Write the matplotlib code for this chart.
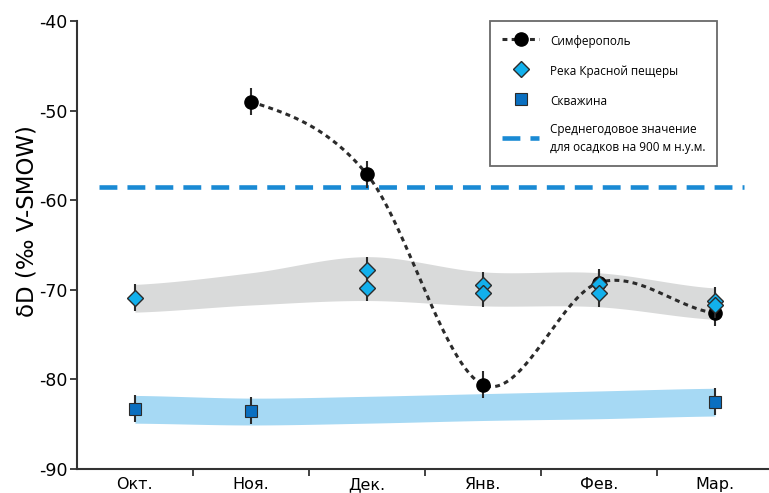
import numpy as np
import matplotlib
matplotlib.use("Agg")
import matplotlib.pyplot as plt
from matplotlib.lines import Line2D

months = ["Окт.", "Ноя.", "Дек.", "Янв.", "Фев.", "Мар."]

# Симферополь
simf_x = [1, 2, 3, 4, 5]
simf_y = [-49.0, -57.1, -80.6, -69.2, -72.6]
simf_err = [1.5, 1.5, 1.5, 1.5, 1.5]

# Река Красной пещеры
river_x = [0, 2, 2, 3, 3, 4, 4, 5, 5]
river_y = [-70.9, -67.8, -69.8, -69.5, -70.4, -69.4, -70.4, -71.2, -71.7]
river_err = [1.5, 1.5, 1.5, 1.5, 1.5, 1.5, 1.5, 1.5, 1.5]

# Скважина
well_x = [0, 1, 5]
well_y = [-83.3, -83.5, -82.5]
well_err = [1.5, 1.5, 1.5]

# полосы
band_x = [0, 1, 2, 3, 4, 5]
gray_top = [-69.4, -68.1, -66.3, -68.0, -68.1, -69.8]
gray_bot = [-72.5, -71.7, -71.2, -71.8, -71.9, -73.3]
blue_top = [-81.8, -82.1, -81.9, -81.6, -81.3, -81.0]
blue_bot = [-84.9, -85.1, -84.9, -84.6, -84.4, -84.1]

mean_value = -58.5


def smooth(x, y, n=60):
    # кривая Катмулла-Рома через точки
    x = np.asarray(x, float)
    y = np.asarray(y, float)
    m = np.zeros(len(y))
    m[1:-1] = (y[2:] - y[:-2]) / (x[2:] - x[:-2])
    m[0] = 0.5 * (y[1] - y[0]) / (x[1] - x[0])
    m[-1] = 0.5 * (y[-1] - y[-2]) / (x[-1] - x[-2])
    xs, ys = [], []
    for i in range(len(x) - 1):
        h = x[i + 1] - x[i]
        t = np.linspace(0, 1, n)
        h00 = 2 * t**3 - 3 * t**2 + 1
        h10 = t**3 - 2 * t**2 + t
        h01 = -2 * t**3 + 3 * t**2
        h11 = t**3 - t**2
        xs.append(x[i] + t * h)
        ys.append(h00 * y[i] + h10 * h * m[i] + h01 * y[i + 1] + h11 * h * m[i + 1])
    return np.concatenate(xs), np.concatenate(ys)


fig = plt.figure(figsize=(7.69, 4.93), dpi=100)
ax = fig.add_axes([0.100, 0.049, 0.90, 0.908])

xs, gt = smooth(band_x, gray_top)
_, gb = smooth(band_x, gray_bot)
ax.fill_between(xs, gb, gt, color="#d9dada", lw=0, zorder=1)
xs, bt = smooth(band_x, blue_top)
_, bbm = smooth(band_x, blue_bot)
ax.fill_between(xs, bbm, bt, color="#a6d9f4", lw=0, zorder=1)

ax.plot([-0.31, 5.25], [mean_value, mean_value], color="#1a8ad4",
        lw=3.3, ls=(0, (3.9, 2.2)), zorder=2)

sx, sy = smooth(simf_x, simf_y)
ax.plot(sx, sy, color="#2b2b2b", lw=2.2, ls=(0, (1.6, 1.4)), zorder=3)

h1 = ax.errorbar(simf_x, simf_y, yerr=simf_err, fmt="o", color="black", ms=9.5,
                 ecolor="#2b2b2b", elinewidth=1.5, capsize=0, zorder=4)
h2 = ax.errorbar(river_x, river_y, yerr=river_err, fmt="D", mfc="#12b0ec",
                 mec="#2b2b2b", mew=1.0, ms=8.5, ecolor="#2b2b2b",
                 elinewidth=1.5, capsize=0, zorder=5)
h3 = ax.errorbar(well_x, well_y, yerr=well_err, fmt="s", mfc="#0a6fc0",
                 mec="#2b2b2b", mew=0.8, ms=8, ecolor="#2b2b2b",
                 elinewidth=1.5, capsize=0, zorder=5)

simf_handle = (Line2D([], [], color="#2b2b2b", lw=2.2, ls=(0, (1.6, 1.4))), h1)
mean_handle = Line2D([], [], color="#1a8ad4", lw=3.3, ls=(0, (3.9, 2.2)))

leg = ax.legend([simf_handle, h2, h3, mean_handle],
                ["Симферополь", "Река Красной пещеры", "Скважина",
                 "Среднегодовое значение\nдля осадков на 900 м н.у.м."],
                loc="upper left", bbox_to_anchor=(0.597, 1.0), borderaxespad=0,
                frameon=True, fancybox=False, edgecolor="#444444",
                handlelength=3.2, handleheight=1.86, labelspacing=1.1,
                borderpad=0.98, handletextpad=0.9,
                prop={"family": ["Open Sans", "DejaVu Sans"], "size": 8.5})
leg.get_frame().set_linewidth(1.3)
for t in leg.get_texts():
    t.set_linespacing(1.5)

ax.set_xlim(-0.5, 5.466)
ax.set_ylim(-90, -40)
ax.set_yticks(np.arange(-90, -39, 10))
ax.set_yticklabels([str(v) for v in range(-90, -39, 10)],
                   family="DejaVu Sans", fontsize=12.5)
ax.set_xticks(np.arange(0.5, 5.5, 1.0))
ax.set_xticklabels([])
ax.set_xticks(range(len(months)), minor=True)
ax.set_xticklabels(months, minor=True, family="DejaVu Sans", fontsize=11.5)
ax.tick_params(axis="x", which="minor", length=0, pad=6)
ax.tick_params(axis="both", which="major", length=5, width=1.3, color="#333333")
ax.tick_params(axis="y", pad=2)

ax.spines["top"].set_visible(False)
ax.spines["right"].set_visible(False)
for s in ["left", "bottom"]:
    ax.spines[s].set_linewidth(1.5)
    ax.spines[s].set_color("#333333")

ax.set_ylabel("δD (‰ V-SMOW)", family="DejaVu Sans", fontsize=16.5)
ax.yaxis.set_label_coords(-0.056, 0.554)

fig.savefig("out.png", dpi=100)
